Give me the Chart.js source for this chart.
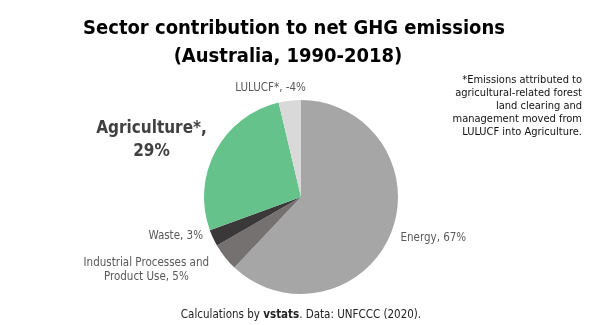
<!DOCTYPE html>
<html>
<head>
<meta charset="utf-8">
<script src="https://cdn.jsdelivr.net/npm/chart.js@4"></script>
<style>
  html, body { margin: 0; padding: 0; background: #fff; }
  #wrap { position: relative; width: 602px; height: 325px; overflow: hidden;
          font-family: 'DejaVu Sans Condensed', 'Liberation Sans Narrow', Roboto, sans-serif; }
  #title { position: absolute; left: -7px; top: 13px; width: 602px; text-align: center;
           font-weight: bold; font-size: 20px; line-height: 28px; color: #000; }
  #title span { padding-right: 12px; }
  #note { position: absolute; right: 20px; top: 73px; text-align: right;
          font-size: 11px; line-height: 13px; color: #111; }
  #foot { position: absolute; left: 0; top: 306px; width: 602px; text-align: center;
          font-size: 11.5px; line-height: 16px; color: #222; }
  canvas { position: absolute; left: 0; top: 0; }
</style>
</head>
<body>
<div id="wrap">
  <canvas id="ch" width="602" height="325"></canvas>
  <div id="title">Sector contribution to net GHG emissions<br><span>(Australia, 1990-2018)</span></div>
  <div id="note">*Emissions attributed to<br>agricultural-related forest<br>land clearing and<br>management moved from<br>LULUCF into Agriculture.</div>
  <div id="foot">Calculations by <b>vstats</b>. Data: UNFCCC (2020).</div>
</div>
<script>
// --- data (net share, %) ---
const sectors = ['Energy', 'Industrial Processes and Product Use', 'Waste', 'Agriculture*', 'LULUCF*'];
const shares = [67, 5, 3, 29, -4];
const labelLines = [
  ['Energy, 67%'],
  ['Industrial Processes and', 'Product Use, 5%'],
  ['Waste, 3%'],
  ['Agriculture*,', '29%'],
  ['LULUCF*, -4%']
];
const colors = ['#a6a6a6', '#767171', '#3a3838', '#65c28b', '#d9d9d9'];

const FONT = "'DejaVu Sans Condensed', 'Liberation Sans Narrow', Roboto, sans-serif";

// label placement per slice: side of the anchor, offset beyond the rim, nudges
const labelStyle = [
  { align: 'left',   off: 10, dx: 0,   dy: 2,   size: 11.5, bold: false, color: '#595959', lh: 13.5 },
  { align: 'right',  off: 10, dx: -8,  dy: 0,   size: 11.5, bold: false, color: '#595959', lh: 13.5 },
  { align: 'right',  off: 10, dx: -1,  dy: -6,  size: 11.5, bold: false, color: '#595959', lh: 13.5 },
  { align: 'right',  off: 10, dx: 0,   dy: -18, size: 17,   bold: true,  color: '#404040', lh: 23 },
  { align: 'center', off: 10, dx: -18, dy: -3,  size: 11.5, bold: false, color: '#595959', lh: 13.5 }
];

const sliceLabels = {
  id: 'sliceLabels',
  afterDraw(chart) {
    const ctx = chart.ctx;
    const arcs = chart.getDatasetMeta(0).data;
    arcs.forEach((arc, i) => {
      const p = arc.getProps(['x', 'y', 'startAngle', 'endAngle', 'outerRadius'], true);
      const mid = (p.startAngle + p.endAngle) / 2;
      const st = labelStyle[i];
      const ax = p.x + Math.cos(mid) * (p.outerRadius + st.off) + st.dx;
      const ay = p.y + Math.sin(mid) * (p.outerRadius + st.off) + st.dy;
      ctx.save();
      ctx.font = (st.bold ? 'bold ' : '') + st.size + 'px ' + FONT;
      ctx.fillStyle = st.color;
      ctx.textBaseline = 'middle';
      ctx.textAlign = 'center';
      const lines = labelLines[i];
      const w = Math.max(...lines.map(l => ctx.measureText(l).width));
      let cx = ax;
      if (st.align === 'left') cx = ax + w / 2;
      if (st.align === 'right') cx = ax - w / 2;
      lines.forEach((l, k) => ctx.fillText(l, cx, ay + k * st.lh));
      ctx.restore();
    });
  }
};

new Chart(document.getElementById('ch'), {
  type: 'pie',
  data: {
    labels: sectors,
    datasets: [{
      data: shares.map(Math.abs),
      backgroundColor: colors,
      borderWidth: 0
    }]
  },
  options: {
    responsive: false,
    animation: false,
    layout: { padding: { top: 100, bottom: 31, left: 150, right: 150 } },
    plugins: { legend: { display: false }, tooltip: { enabled: false } }
  },
  plugins: [sliceLabels]
});
</script>
</body>
</html>
